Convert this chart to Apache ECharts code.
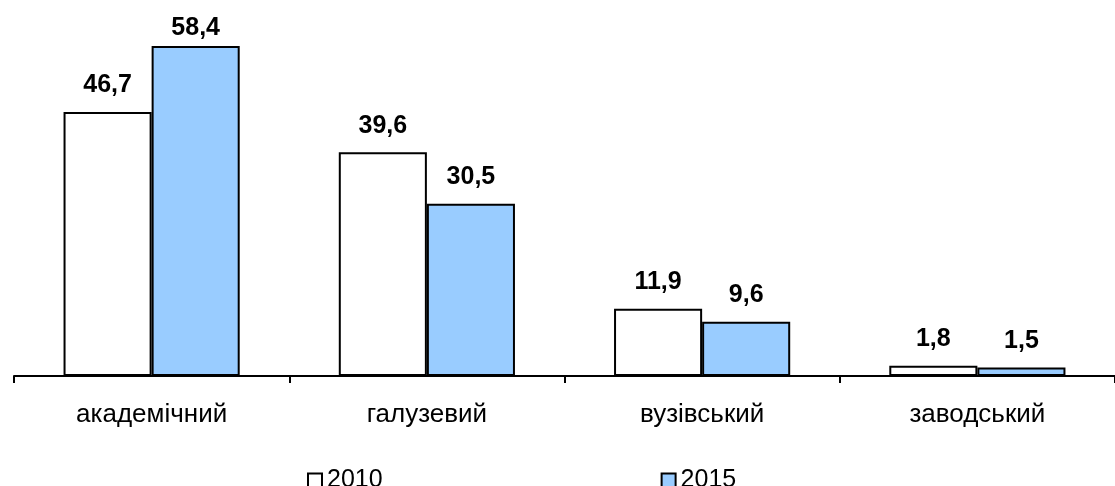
<!DOCTYPE html>
<html><head><meta charset="utf-8">
<script src="https://cdn.jsdelivr.net/npm/echarts@6/dist/echarts.min.js"></script>
<style>html,body{margin:0;padding:0;background:#fff}#c{width:1115px;height:486px}</style>
</head><body><div id="c"></div>
<script>
const categories = ['академічний', 'галузевий', 'вузівський', 'заводський'];
const seriesNames = ['2010', '2015'];
const values2010 = [46.7, 39.6, 11.9, 1.8];
const values2015 = [58.4, 30.5, 9.6, 1.5];

const FONT = '"Liberation Sans", Arial, sans-serif';
const chart = echarts.init(document.getElementById('c'), null, {renderer: 'canvas'});
const fmt = p => String(p.value).replace('.', ',');
const labelCfg = {show: true, position: 'top', distance: 14, formatter: fmt,
  fontFamily: FONT, fontWeight: 'bold', fontSize: 25, color: '#000'};
// the tallest label is pushed down to stay inside the chart area, as in the original
const data2015 = values2015.map((v, i) => i === 0 ? {value: v, label: {distance: 5}} : v);
chart.setOption({
  animation: false,
  grid: {left: 14, top: 20, width: 1111, height: 356, containLabel: false},
  legend: {
    data: seriesNames, left: 302, top: 463, itemGap: 278, itemWidth: 14, itemHeight: 14,
    icon: 'rect',
    itemStyle: {borderColor: '#000', borderWidth: 2},
    textStyle: {fontFamily: FONT, fontSize: 25, color: '#000'}
  },
  xAxis: {
    type: 'category', data: categories,
    axisLine: {lineStyle: {color: '#000', width: 2}},
    axisTick: {show: true, length: 7, lineStyle: {color: '#000', width: 2}},
    axisLabel: {fontFamily: FONT, fontSize: 26, color: '#000', margin: 26}
  },
  yAxis: {type: 'value', min: 0, max: 63, show: false, splitLine: {show: false}},
  series: [
    {name: '2010', type: 'bar', data: values2010, barGap: '0%', barCategoryGap: '36%',
     itemStyle: {color: '#ffffff', borderColor: '#000', borderWidth: 2}, label: labelCfg},
    {name: '2015', type: 'bar', data: data2015, barGap: '0%', barCategoryGap: '36%',
     itemStyle: {color: '#99ccff', borderColor: '#000', borderWidth: 2}, label: labelCfg}
  ]
});
</script></body></html>
